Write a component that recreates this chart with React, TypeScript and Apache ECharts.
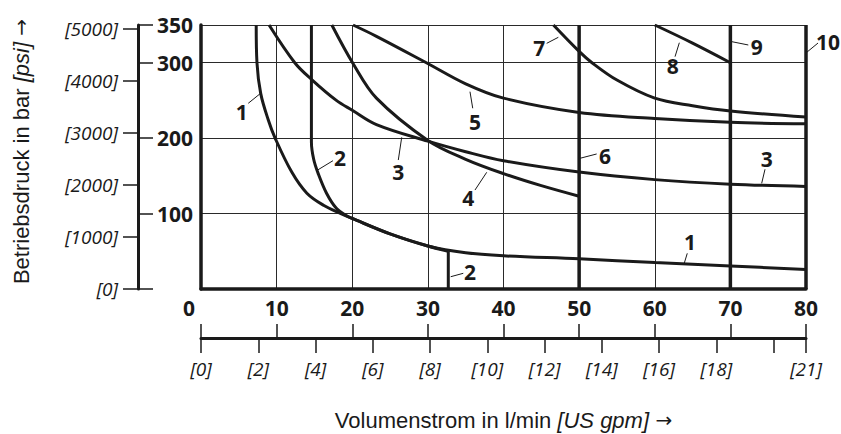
import React, { useEffect, useRef } from 'react';
import * as echarts from 'echarts';

// ---------- DATA ----------
const GPM_PER_LMIN = 1 / 3.785411784;
const PSI_PER_BAR = 14.5037738;
const X_MAX = 80;
const Y_MAX = 350;

const xTickLabels = [0, 10, 20, 30, 40, 50, 60, 70, 80];
const barTickValues = [0, 100, 200, 300, 350];
const barLabelValues = [100, 200, 300, 350];
const psiTickValues = [0, 1000, 2000, 3000, 4000, 5000];
const gpmTickValues = [0, 2, 4, 6, 8, 10, 12, 14, 16, 18, 20, X_MAX * GPM_PER_LMIN];
const gpmLabelValues = [0, 2, 4, 6, 8, 10, 12, 14, 16, 18, X_MAX * GPM_PER_LMIN];

// curves: [l/min, bar]
const curve1 = [[7.3, 350], [7.4, 300], [7.9, 259], [8.9, 224], [9.8, 200], [12, 155], [14, 127], [16.2, 111], [18.5, 100], [20, 93.5], [25, 73], [30, 57], [35, 48], [40, 44], [50, 40], [60, 35], [70, 30.5], [80, 26]];
const curve2 = [[14.6, 350], [14.6, 195], [14.9, 172], [15.5, 153], [16.6, 127], [17.9, 107], [19.3, 96.8], [20, 93.5], [25, 73], [30, 57], [32.7, 50]];
const curve2Drop = [[32.7, 50], [32.7, 0]];
const curve3 = [[9.0, 350], [12.4, 300], [14.6, 278], [17.9, 250], [20, 237], [23.2, 218], [30, 196], [35, 182], [40, 170], [50, 155], [60, 145], [70, 139], [80, 136]];
const curve4 = [[17.3, 350], [20.1, 299], [23.2, 253], [30, 197], [35, 172], [40, 153], [45, 137], [50, 123]];
const curve5 = [[20.1, 350], [23.2, 335], [29.8, 300], [35, 272], [40, 253], [50, 234], [60, 226], [70, 221], [80, 219]];
const curve6 = [[50, 0], [50, 350]];
const curve7 = [[46.6, 350], [50, 315], [51.7, 300], [55, 277], [60, 253], [65, 243], [70, 236], [80, 228]];
const curve8 = [[60, 350], [65, 326], [70, 300]];
const curve9 = [[70, 0], [70, 350]];
const curve10 = [[80, 0], [80, 350]];

// curve numbers (anchored in data units) and their leader lines
const curveLabels = [
  [5.38, 234.7, '1'], [18.38, 173.7, '2'], [26.09, 154.7, '3'], [36.23, 221.8, '5'],
  [35.35, 120.2, '4'], [35.57, 22.9, '2'], [44.73, 319.1, '7'], [73.48, 320.4, '9'],
  [82.91, 327.9, '10'], [62.37, 295.6, '8'], [53.42, 176.7, '6'], [74.8, 172, '3'],
  [64.66, 62.7, '1'],
];
const leaderLines = [
  [[6.25, 246.2], [7.89, 259.5]], [[17.45, 170.1], [15.43, 157.8]], [[26.09, 171.0], [26.54, 201.1]],
  [[35.93, 239.6], [35.57, 261.6]], [[36.23, 131.2], [37.78, 154.7]], [[34.68, 20.8], [33.02, 16.3]],
  [[45.71, 325.7], [47.25, 333.7]], [[72.37, 323.5], [70.18, 327.9]], [[81.59, 326.1], [80.1, 313.8]],
  [[62.68, 308], [63.25, 326.5]], [[52.32, 179], [50.12, 173.3]], [[74.58, 158.7], [74.14, 140.1]],
  [[64.3, 47.3], [63.9, 34.1]],
];

// ---------- STYLE ----------
const INK = '#1a1a1a';
const NUM_FONT = '"Open Sans", "Noto Sans", sans-serif';
const TITLE_FONT = '"Liberation Sans", Arial, sans-serif';

function curveSeries(data: number[][], width = 3, smooth: number | boolean = 0.35, clip = true) {
  return {
    type: 'line',
    data,
    showSymbol: false,
    symbol: 'none',
    smooth,
    clip,
    silent: true,
    xAxisIndex: 0,
    yAxisIndex: 0,
    lineStyle: { color: INK, width, cap: 'butt' },
    z: 3,
  };
}

const titleRich = {
  a: { fontFamily: TITLE_FONT, fontSize: 22, color: INK },
  b: { fontFamily: TITLE_FONT, fontSize: 22, fontStyle: 'italic', color: INK },
  c: { fontFamily: '"DejaVu Sans", sans-serif', fontSize: 20, color: INK },
};

export default function App() {
  const ref = useRef<HTMLDivElement>(null);

  useEffect(() => {
    if (!ref.current) return;
    const chart = echarts.init(ref.current, undefined, { renderer: 'svg' });
    const option: any = {
      animation: false,
      backgroundColor: '#ffffff',
      grid: { left: 201, top: 25, width: 605, height: 264, outerBoundsMode: 'none' },
      xAxis: [
        {
          type: 'value', min: 0, max: X_MAX, interval: 10, position: 'bottom', gridIndex: 0,
          axisLine: { show: true, onZero: false, lineStyle: { color: INK, width: 3.5 } },
          axisTick: { show: false },
          axisLabel: {
            margin: 8, color: INK, fontFamily: NUM_FONT, fontWeight: 'bold', fontSize: 21,
            customValues: xTickLabels,
            formatter: (v: number) => (v === 0 ? '{z|0}' : String(v)),
            rich: { z: { padding: [0, 24, 0, 0], color: INK, fontFamily: NUM_FONT, fontWeight: 'bold', fontSize: 21 } },
          },
          splitLine: { show: true, lineStyle: { color: '#2a2a2a', width: 1 } },
        },
        {
          type: 'value', min: 0, max: X_MAX, interval: 10, position: 'bottom', offset: 49, gridIndex: 0,
          axisLine: { show: true, onZero: false, lineStyle: { color: INK, width: 3 } },
          axisTick: { show: true, inside: true, length: 14, lineStyle: { color: INK, width: 1.5 } },
          axisLabel: { show: false },
          splitLine: { show: false },
        },
        {
          type: 'value', min: 0, max: X_MAX * GPM_PER_LMIN, position: 'bottom', offset: 49, gridIndex: 0,
          axisLine: { show: false, onZero: false },
          axisTick: { show: true, length: 15, customValues: gpmTickValues, lineStyle: { color: INK, width: 1.5 } },
          axisLabel: {
            customValues: gpmLabelValues, margin: 21, color: INK, fontFamily: NUM_FONT, fontStyle: 'italic', fontSize: 19,
            formatter: (v: number) => `[${Math.round(v)}]`,
          },
          splitLine: { show: false },
        },
      ],
      yAxis: [
        {
          type: 'value', min: 0, max: Y_MAX, interval: 100, position: 'left', gridIndex: 0,
          axisLine: { show: true, onZero: false, lineStyle: { color: INK, width: 3.5 } },
          axisTick: { show: false },
          axisLabel: { show: false },
          splitLine: { show: true, lineStyle: { color: '#2a2a2a', width: 1 } },
        },
        {
          type: 'value', min: 0, max: Y_MAX, position: 'left', offset: 63, gridIndex: 0,
          axisLine: { show: true, onZero: false, lineStyle: { color: INK, width: 3 } },
          axisTick: { show: true, inside: true, length: 15, customValues: barTickValues, lineStyle: { color: INK, width: 1.5 } },
          axisLabel: {
            inside: true, margin: 19, customValues: barLabelValues, color: INK,
            fontFamily: NUM_FONT, fontWeight: 'bold', fontSize: 21,
          },
          splitLine: { show: false },
        },
        {
          type: 'value', min: 0, max: Y_MAX * PSI_PER_BAR, position: 'left', offset: 63, gridIndex: 0,
          axisLine: { show: false, onZero: false },
          axisTick: { show: true, length: 15, customValues: psiTickValues, lineStyle: { color: INK, width: 1.5 } },
          axisLabel: {
            margin: 20, customValues: psiTickValues, color: INK, fontFamily: NUM_FONT, fontStyle: 'italic', fontSize: 19,
            formatter: (v: number) => `[${v}]`,
          },
          splitLine: { show: false },
        },
      ],
      series: [
        curveSeries(curve1),
        curveSeries(curve2),
        curveSeries(curve2Drop, 3, false),
        curveSeries(curve3),
        curveSeries(curve4),
        curveSeries(curve5),
        curveSeries(curve6, 3.5, false, false),
        curveSeries(curve7),
        curveSeries(curve8),
        curveSeries(curve9, 3.5, false, false),
        curveSeries(curve10, 3.5, false, false),
        {
          type: 'lines', coordinateSystem: 'cartesian2d', xAxisIndex: 0, yAxisIndex: 0, silent: true, z: 5,
          clip: false,
          data: leaderLines.map((c) => ({ coords: c })),
          symbol: ['none', 'none'],
          lineStyle: { color: INK, width: 1, opacity: 1, curveness: 0 },
        },
        {
          type: 'scatter', xAxisIndex: 0, yAxisIndex: 0, silent: true, clip: false, z: 6,
          data: curveLabels.map(([x, y, t]) => ({ value: [x, y], name: t })),
          symbolSize: 1, itemStyle: { color: 'transparent', opacity: 1 },
          label: {
            show: true, position: 'inside', formatter: (p: any) => p.name, opacity: 1,
            textBorderWidth: 0, textShadowBlur: 0,
            fontFamily: NUM_FONT, fontWeight: 'bold', fontSize: 21, color: INK,
          },
        },
      ],
      graphic: [
        {
          type: 'text', x: 21, y: 151.5, rotation: Math.PI / 2, silent: true,
          style: {
            text: '{a|Betriebsdruck in bar }{b|[psi]}{c| →}',
            align: 'center', verticalAlign: 'middle', fill: INK,
            rich: titleRich,
          },
        },
        {
          type: 'text', x: 503.5, y: 420, silent: true,
          style: {
            text: '{a|Volumenstrom in l/min }{b|[US gpm]}{c| →}',
            align: 'center', verticalAlign: 'middle', fill: INK,
            rich: titleRich,
          },
        },
      ],
    };
    chart.setOption(option);
    return () => chart.dispose();
  }, []);

  return <div ref={ref} style={{ position: 'fixed', left: 0, top: 0, width: 841, height: 434 }} />;
}
